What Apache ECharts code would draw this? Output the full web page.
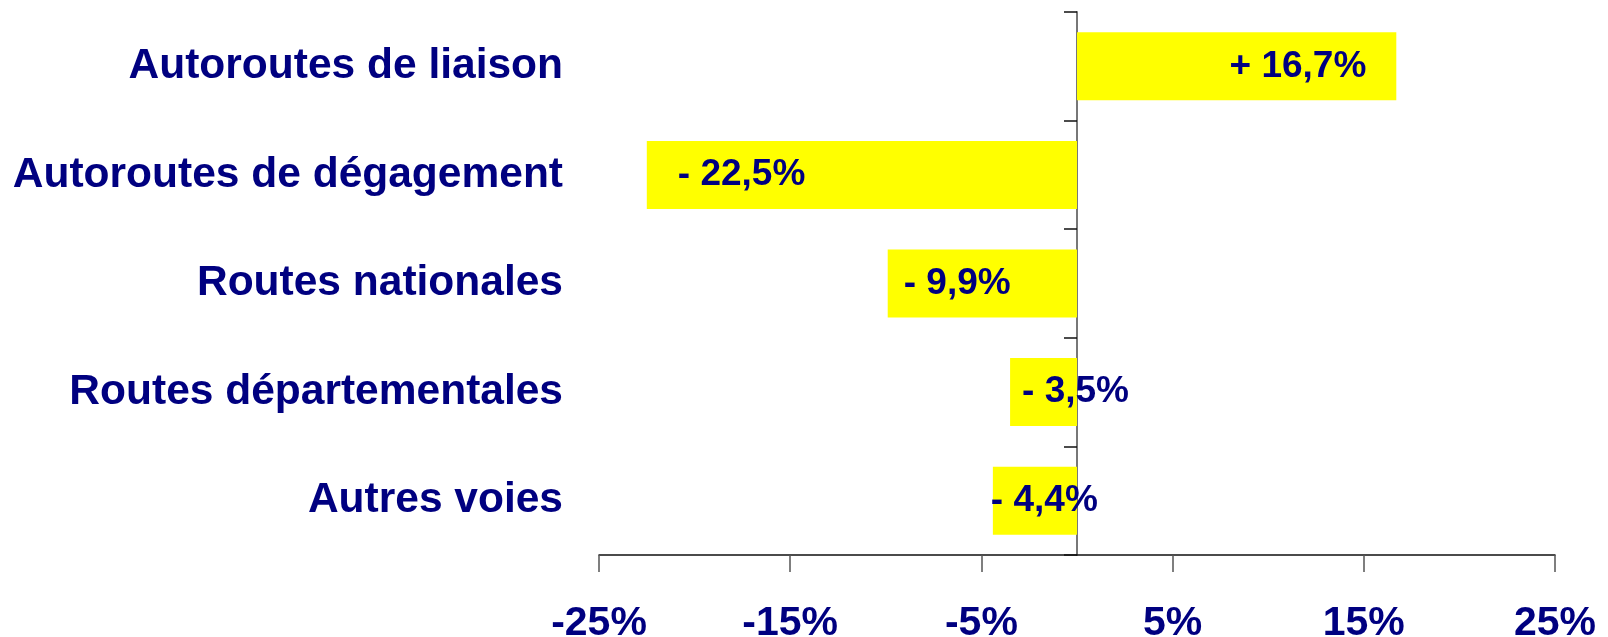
<!DOCTYPE html>
<html>
<head>
<meta charset="utf-8">
<script src="https://cdn.jsdelivr.net/npm/echarts@6/dist/echarts.min.js"></script>
<style>
  html, body { margin: 0; padding: 0; background: #fff; }
  #chart { width: 1608px; height: 637px; }
</style>
</head>
<body>
<div id="chart"></div>
<script>
// data
const categories = [
  'Autoroutes de liaison',
  'Autoroutes de dégagement',
  'Routes nationales',
  'Routes départementales',
  'Autres voies'
]
const values = [16.7, -22.5, -9.9, -3.5, -4.4]
const xTicks = [-25, -15, -5, 5, 15, 25]

// small nudges so the bar labels sit where they do in the original
const labelShift = [-25, 26, 11, 7, -7]

const navy = '#000080'
const font = "'Liberation Sans', Arial, sans-serif"

const fmt = (v) => (v > 0 ? '+ ' : '- ') + Math.abs(v).toFixed(1).replace('.', ',') + '%'

const chart = echarts.init(document.getElementById('chart'))

const option = {
  animation: false,
  backgroundColor: '#fff',
  textStyle: { fontFamily: font },
  grid: {
    left: 599,
    right: 53,
    top: 12,
    bottom: 82,
    containLabel: false,
    outerBoundsMode: 'none'
  },
  xAxis: {
    type: 'value',
    min: -25,
    max: 25,
    interval: 5,
    splitLine: { show: false },
    axisLine: { show: true, onZero: false, lineStyle: { color: '#111', width: 1.5 } },
    axisTick: {
      show: true,
      length: 17,
      customValues: xTicks,
      lineStyle: { color: '#555', width: 1.5 }
    },
    axisLabel: {
      customValues: xTicks,
      margin: 48,
      fontSize: 41,
      fontWeight: 'bold',
      fontFamily: font,
      color: navy,
      formatter: (v) => v + '%'
    }
  },
  yAxis: [
    {
      // labels only, kept at the left edge of the plot
      type: 'category',
      data: categories,
      inverse: true,
      position: 'left',
      axisLine: { show: false, onZero: false },
      axisTick: { show: false },
      axisLabel: {
        margin: 36,
        fontSize: 42.5,
        fontWeight: 'bold',
        fontFamily: font,
        color: navy
      }
    },
    {
      // line and ticks, sitting on 0%
      type: 'category',
      data: categories,
      inverse: true,
      position: 'left',
      axisLine: { show: true, onZero: true, onZeroAxisIndex: 0, lineStyle: { color: '#777', width: 2 } },
      axisTick: { show: true, length: 13, lineStyle: { color: '#111', width: 1.5 } },
      axisLabel: { show: false }
    }
  ],
  series: [
    {
      type: 'bar',
      yAxisIndex: 0,
      barWidth: 68,
      itemStyle: { color: '#ffff00' },
      data: values.map((v, i) => ({
        value: v,
        label: {
          show: true,
          position: v > 0 ? 'insideRight' : 'insideLeft',
          offset: [labelShift[i], 0],
          formatter: (p) => fmt(p.value),
          fontSize: 37,
          fontWeight: 'bold',
          fontFamily: font,
          color: navy
        }
      }))
    }
  ]
}

chart.setOption(option)

window.addEventListener('resize', () => {
  chart?.resize()
})
</script>
</body>
</html>
